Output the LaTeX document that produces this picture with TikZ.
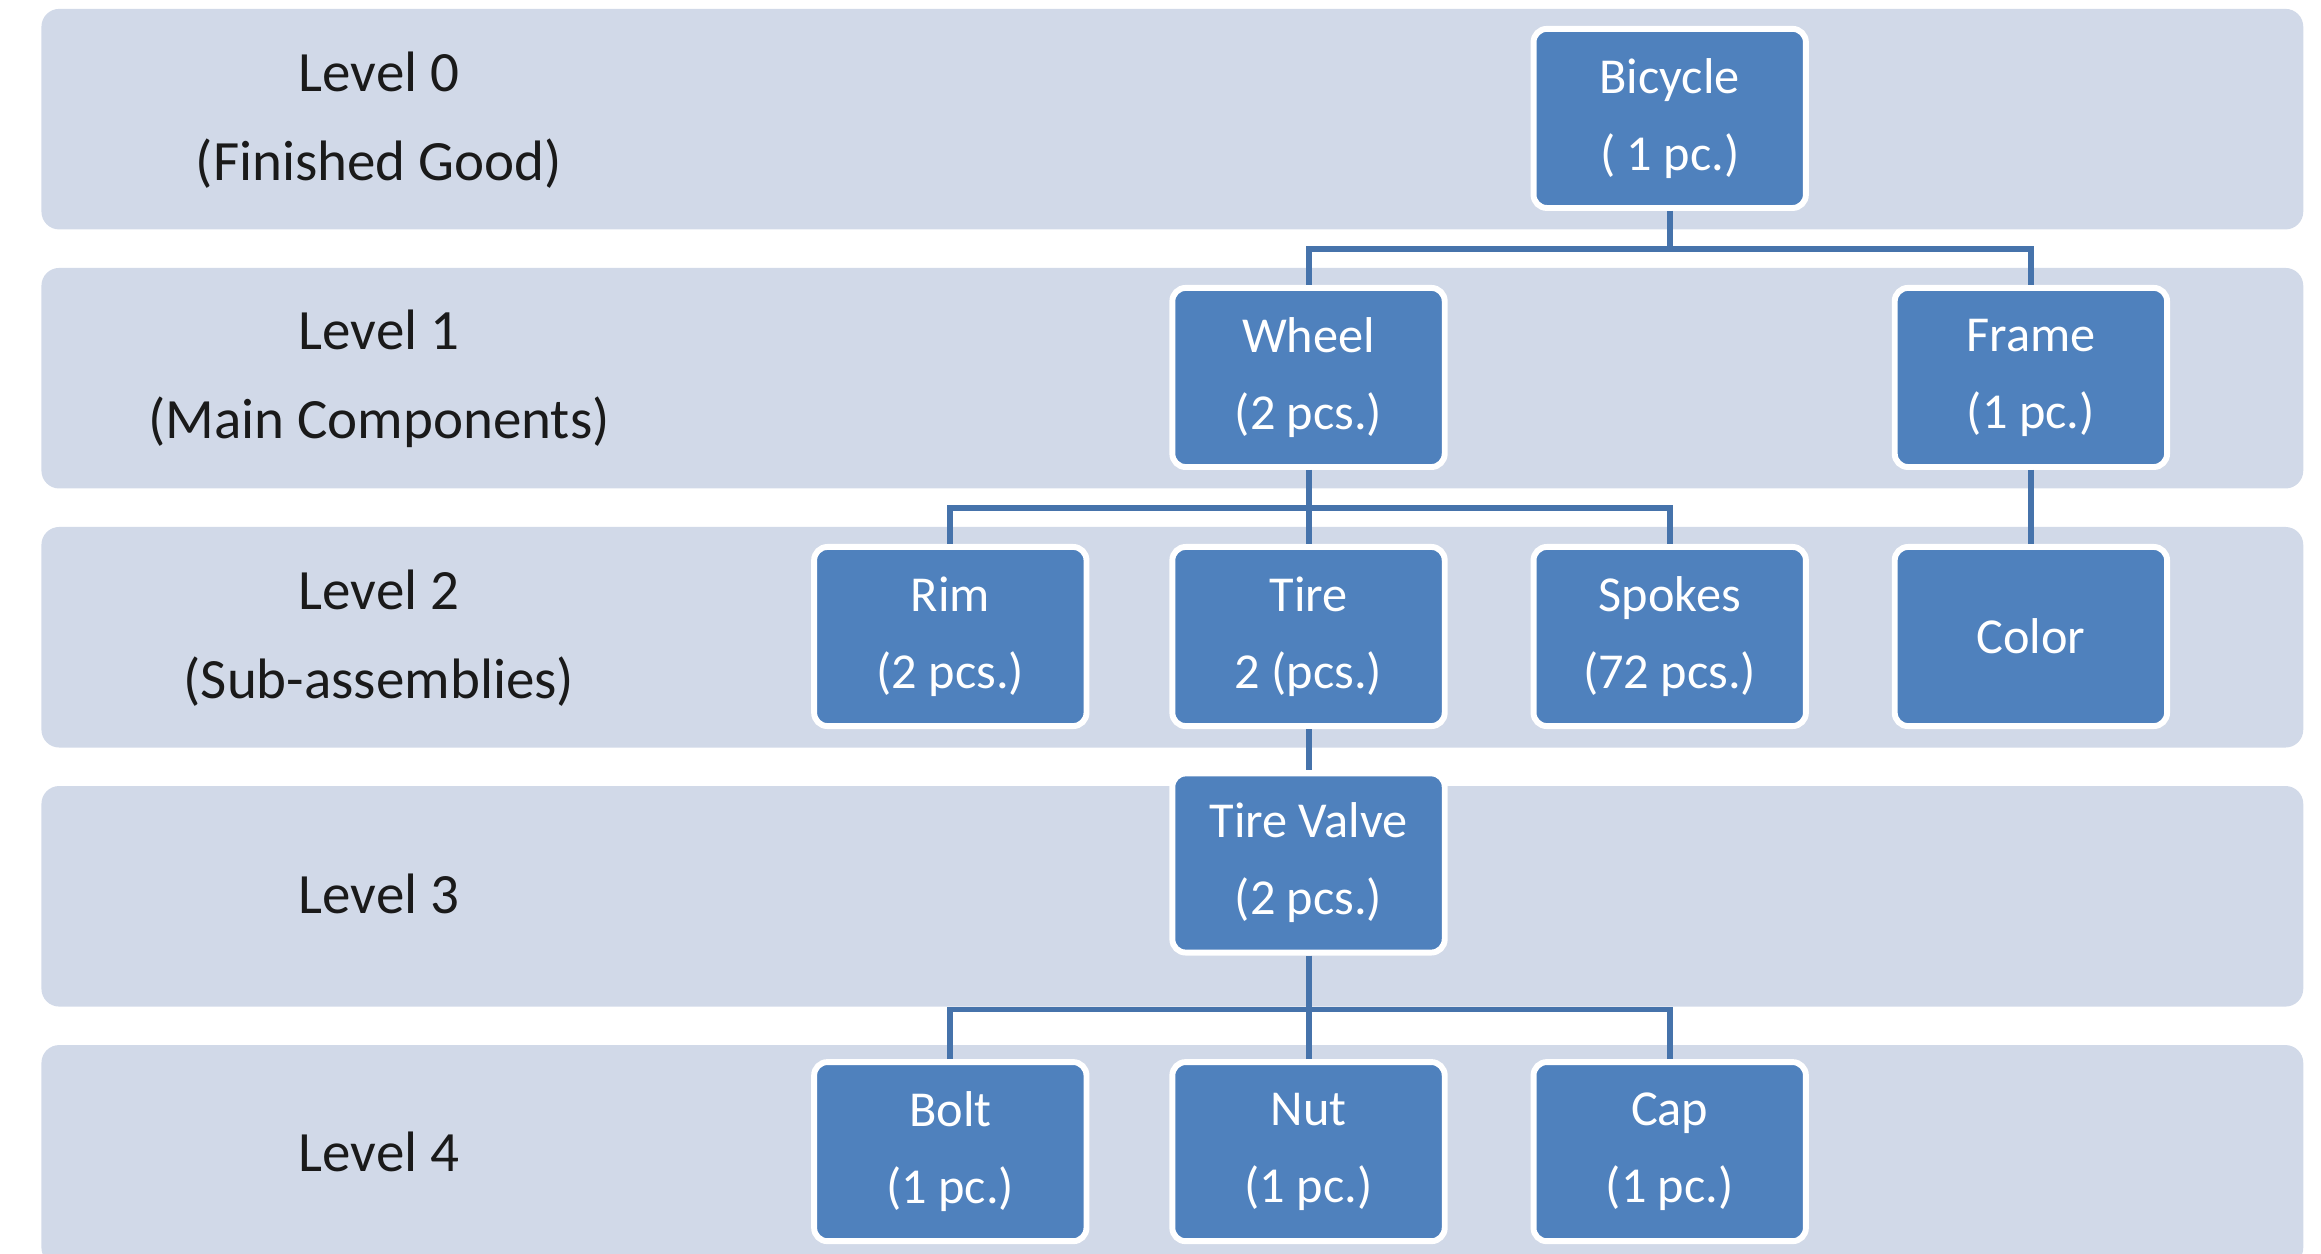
\documentclass[tikz,border=0pt]{standalone}
\usepackage{fontspec}
\setmainfont{Carlito}
\definecolor{bandc}{HTML}{D1D9E8}
\definecolor{boxc}{HTML}{4F81BD}
\definecolor{linec}{HTML}{4673AB}
\definecolor{lblc}{HTML}{1A1A1A}
\tikzset{
  itembox/.style={rectangle, rounded corners=9pt, fill=boxc, draw=white, line width=4pt,
    minimum width=184pt, minimum height=121pt, inner sep=0pt, text=white, align=center,
    font=\fontsize{34}{52}\selectfont},
  lvl/.style={align=center, text=lblc, inner sep=0pt, font=\fontsize{38.5}{60}\selectfont},
  conn/.style={draw=linec, line width=4pt},
  band/.style={fill=bandc, rounded corners=12pt}
}
\begin{document}
\begin{tikzpicture}[x=1pt,y=-1pt]
\useasboundingbox (0,0) rectangle (1568,847);
\begin{scope}
\clip (0,0) rectangle (1568,847);
\foreach \k in {0,...,4} {
  \fill[band] (28,{6+175*\k}) rectangle (1556,{155+175*\k});
}
\end{scope}
% level labels
\node[lvl] (l0) at (256,81) {Level 0\\(Finished Good)};
\node[lvl] (l1) at (256,256) {Level 1\\(Main Components)};
\node[lvl] (l2) at (256,431) {Level 2\\(Sub-assemblies)};
\node[lvl] (l3) at (256,604) {Level 3};
\node[lvl] (l4) at (256,778) {Level 4};
% boxes
\node[itembox] (bicycle) at (1128,80) {Bicycle\\( 1 pc.)};
\node[itembox] (wheel) at (884,255) {Wheel\\(2 pcs.)};
\node[itembox] (frame) at (1372,255) {Frame\\(1 pc.)};
\node[itembox] (rim) at (642,430) {Rim\\(2 pcs.)};
\node[itembox] (tire) at (884,430) {Tire\\2 (pcs.)};
\node[itembox] (spokes) at (1128,430) {Spokes\\(72 pcs.)};
\node[itembox] (color) at (1372,430) {Color};
\node[itembox] (valve) at (884,583) {Tire Valve\\(2 pcs.)};
\node[itembox] (bolt) at (642,778) {Bolt\\(1 pc.)};
\node[itembox] (nut) at (884,778) {Nut\\(1 pc.)};
\node[itembox] (cap) at (1128,778) {Cap\\(1 pc.)};
% junctions
\coordinate (j0) at (1128,168);
\coordinate (j1) at (884,343);
\coordinate (j3) at (884,682);
% connectors
\draw[conn] (bicycle.south) -- (j0);
\draw[conn] (wheel.north) |- (j0);
\draw[conn] (frame.north) |- (j0);
\draw[conn] (wheel.south) -- (j1);
\draw[conn] (rim.north) |- (j1);
\draw[conn] (tire.north) -- (j1);
\draw[conn] (spokes.north) |- (j1);
\draw[conn] (frame.south) -- (color.north);
\draw[conn] (tire.south) -- (valve.north);
\draw[conn] (valve.south) -- (j3);
\draw[conn] (bolt.north) |- (j3);
\draw[conn] (nut.north) -- (j3);
\draw[conn] (cap.north) |- (j3);
\end{tikzpicture}
\end{document}
